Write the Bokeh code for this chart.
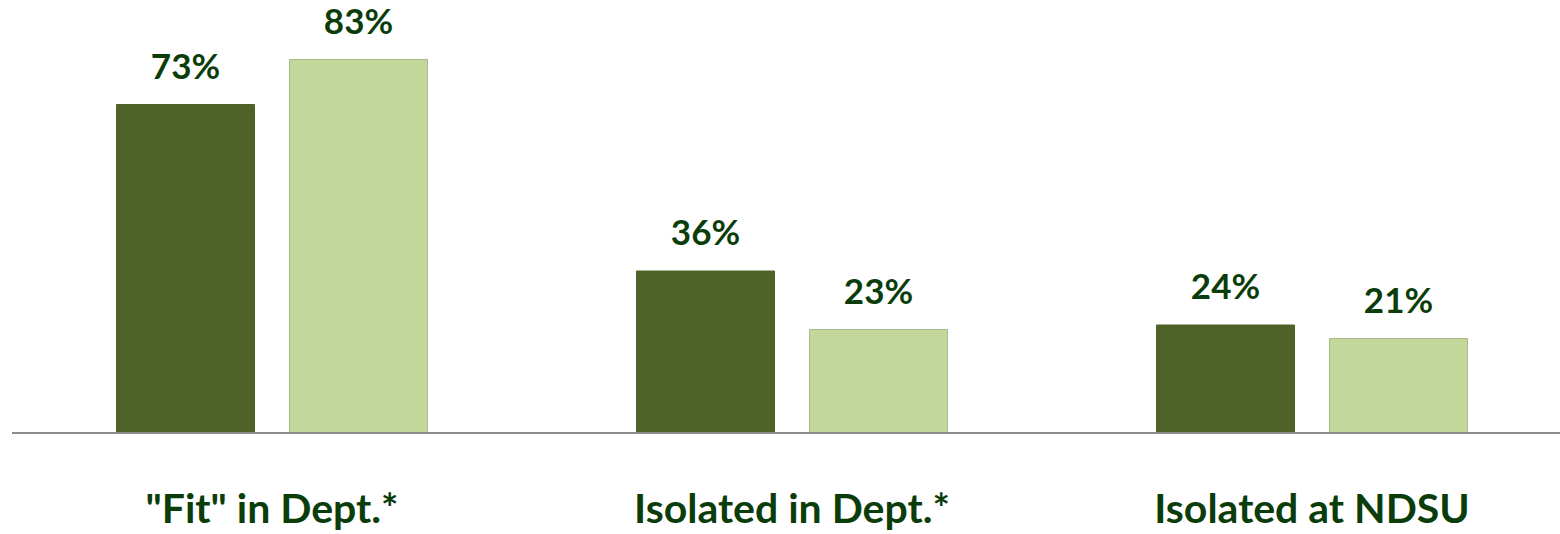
from bokeh.plotting import figure
from bokeh.models import ColumnDataSource, Range1d
from bokeh.core.properties import value
from bokeh.transform import dodge
from bokeh.embed import file_html
from bokeh.resources import INLINE

categories = ['"Fit" in Dept.*', 'Isolated in Dept.*', 'Isolated at NDSU']
series_a = [73, 36, 24]
series_b = [83, 23, 21]

idx = list(range(len(categories)))
src = ColumnDataSource(dict(
    idx=idx,
    cat=categories,
    a=series_a,
    b=series_b,
    a_lbl=[f"{v}%" for v in series_a],
    b_lbl=[f"{v}%" for v in series_b],
    ylab=[-16.6] * len(categories),
))

W, H = 1560, 534
p = figure(width=W, height=H, output_backend="svg", toolbar_location=None,
           x_range=Range1d(-271.5 / 520, (1560 - 271.5) / 520),
           y_range=Range1d(-(534 - 432.5) / 4.5, 432.5 / 4.5),
           min_border=0, min_border_left=0, min_border_right=0,
           min_border_top=0, min_border_bottom=0)
p.axis.visible = False
p.grid.visible = False
p.outline_line_color = None
p.background_fill_color = "white"
p.border_fill_color = "white"

bw = 138 / 520
off = 173 / 2 / 520
font = value("Lato")
txt_color = "#0B3D0B"

p.vbar(x=dodge("idx", -off, range=p.x_range), top="a", bottom=0, width=bw,
       source=src, fill_color="#4F6228", line_color="#4F6228", line_width=1)
p.vbar(x=dodge("idx", off, range=p.x_range), top="b", bottom=0, width=bw,
       source=src, fill_color="#C4D79B", line_color="#A9BA8C", line_width=1)

p.segment(x0=[-0.5], y0=[0], x1=[2.6], y1=[0], line_color="#8C8C8C", line_width=2)

p.text(x=dodge("idx", -off, range=p.x_range), y="a", text="a_lbl", source=src,
       text_font=font, text_font_style="bold", text_font_size="35px",
       text_color=txt_color, text_align="center", text_baseline="middle",
       y_offset=-40)
p.text(x=dodge("idx", off, range=p.x_range), y="b", text="b_lbl", source=src,
       text_font=font, text_font_style="bold", text_font_size="35px",
       text_color=txt_color, text_align="center", text_baseline="middle",
       y_offset=-40)
p.text(x="idx", y="ylab", text="cat", source=src,
       text_font=font, text_font_style="bold", text_font_size="41px",
       text_color=txt_color, text_align="center", text_baseline="middle")

open("out.html", "w").write(file_html(p, INLINE))
